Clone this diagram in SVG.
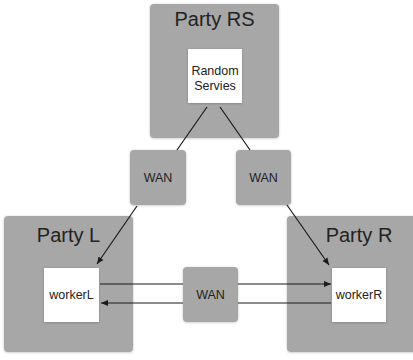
<svg xmlns="http://www.w3.org/2000/svg" width="413" height="360" viewBox="0 0 413 360">
<style>
.party{fill:#a6a7a6}
.inner{fill:#ffffff}
.t{font-family:"Liberation Sans",Arial,sans-serif;fill:#222;text-anchor:middle}
.big{font-size:20px}
.small{font-size:12.5px}
.c{stroke:#1a1a1a;stroke-width:1.2;fill:none}
</style>
<defs>
<marker id="ah" markerWidth="8" markerHeight="8" refX="7" refY="4" orient="auto" markerUnits="userSpaceOnUse">
<path d="M0,1 L7,4 L0,7 Z" fill="#1a1a1a"/>
</marker>
<filter id="sh" x="-10%" y="-10%" width="120%" height="120%">
<feDropShadow dx="0" dy="0.5" stdDeviation="0.8" flood-color="#000" flood-opacity="0.25"/>
</filter>
</defs>
<g id="partyRS">
<rect class="party" x="150" y="4" width="129" height="134" rx="4" filter="url(#sh)"/>
<text class="t big" x="214.5" y="26">Party RS</text>
</g>
<g id="randomServies">
<rect class="inner" x="188" y="49" width="54" height="54" filter="url(#sh)"/>
<text class="t small" x="215" y="75">Random</text>
<text class="t small" x="215" y="90">Servies</text>
</g>
<g id="partyL">
<rect class="party" x="4" y="216" width="129" height="136" rx="4" filter="url(#sh)"/>
<text class="t big" x="68.5" y="242">Party L</text>
</g>
<g id="workerL">
<rect class="inner" x="44" y="268" width="55" height="54" filter="url(#sh)"/>
<text class="t small" x="71.5" y="299">workerL</text>
</g>
<g id="partyR">
<rect class="party" x="287" y="216" width="130" height="136" rx="4" filter="url(#sh)"/>
<text class="t big" x="359" y="242">Party R</text>
</g>
<g id="workerR">
<rect class="inner" x="332" y="268" width="54" height="54" filter="url(#sh)"/>
<text class="t small" x="359" y="299">workerR</text>
</g>
<g id="wanLeft">
<rect class="party" x="130" y="150" width="56" height="55" rx="4" filter="url(#sh)"/>
<text class="t small" x="158" y="182">WAN</text>
</g>
<g id="wanRight">
<rect class="party" x="236" y="150" width="55" height="55" rx="4" filter="url(#sh)"/>
<text class="t small" x="263.5" y="182">WAN</text>
</g>
<g id="wanMid">
<rect class="party" x="183" y="267" width="55" height="55" rx="4" filter="url(#sh)"/>
<text class="t small" x="210.5" y="299">WAN</text>
</g>
<g id="connectors">
<line class="c" x1="207" y1="107" x2="177" y2="150"/>
<line class="c" x1="220" y1="107" x2="250" y2="150"/>
<line class="c" x1="137" y1="206" x2="97" y2="264" marker-end="url(#ah)"/>
<line class="c" x1="287" y1="205" x2="329" y2="265" marker-end="url(#ah)"/>
<line class="c" x1="100" y1="284" x2="183" y2="284"/>
<line class="c" x1="238" y1="284" x2="331" y2="284" marker-end="url(#ah)"/>
<line class="c" x1="331" y1="303" x2="238" y2="303"/>
<line class="c" x1="183" y1="303" x2="101" y2="303" marker-end="url(#ah)"/>
</g>
</svg>
